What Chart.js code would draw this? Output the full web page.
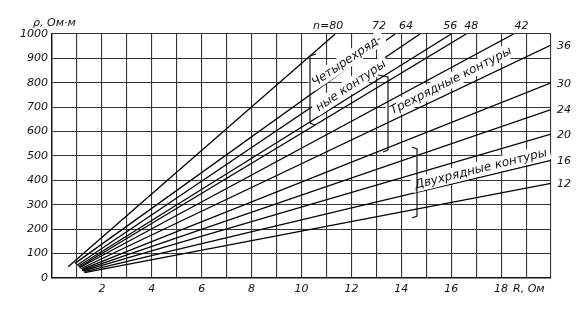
<!DOCTYPE html>
<html>
<head>
<meta charset="utf-8">
<script src="https://cdn.jsdelivr.net/npm/chart.js@4/dist/chart.umd.min.js"></script>
<style>
  html, body { margin: 0; padding: 0; background: #fff; }
  #wrap { width: 583px; height: 311px; }
</style>
</head>
<body>
<div id="wrap"><canvas id="chart"></canvas></div>
<script>
// number of electrodes in the contour, one line each
const contourN = [80, 72, 64, 56, 48, 42, 36, 30, 24, 20, 16, 12];
// where each line starts (R, Ohm / rho, Ohm*m)
const rStart = [0.65, 0.92, 1.0, 1.05, 1.1, 1.1, 1.15, 1.2, 1.2, 1.25, 1.3, 1.3];
const rhoStart = [46, 60, 52, 48, 45, 42, 38, 35, 31, 29, 26, 22];
// where each line ends (top edge or right edge)
const rEnd = [11.35, 13.75, 14.75, 16.0, 16.6, 18.5, 20, 20, 20, 20, 20, 20];
const rhoEnd = [1000, 1000, 1000, 1000, 1000, 1000, 955, 800, 690, 590, 482, 388];

const tickFont = { family: "DejaVu Sans", size: 11, style: "italic" };

const datasets = contourN.map((n, i) => ({
  label: "n=" + n,
  data: [
    { x: rStart[i], y: rhoStart[i] },
    { x: rEnd[i], y: rhoEnd[i] },
  ],
  borderColor: "#000",
  borderWidth: 1.3,
  pointRadius: 0,
  fill: false,
}));

// text, braces and line labels
const notes = {
  id: "notes",
  afterDraw(chart) {
    const ctx = chart.ctx;
    const xs = chart.scales.x;
    const ys = chart.scales.y;
    const area = chart.chartArea;
    ctx.save();
    ctx.textBaseline = "middle";

    // rotated group names on a white band that breaks the grid
    ctx.font = "italic 12px 'DejaVu Sans'";
    ctx.textAlign = "center";
    const rotText = (txt, x, y, deg) => {
      ctx.save();
      ctx.translate(x, y);
      ctx.rotate(deg * Math.PI / 180);
      const w = ctx.measureText(txt).width;
      ctx.fillStyle = "#fff";
      ctx.fillRect(-w / 2 - 3, -8, w + 6, 15);
      ctx.fillStyle = "#111";
      ctx.fillText(txt, 0, 0);
      ctx.restore();
    };
    rotText("\u0427\u0435\u0442\u044b\u0440\u0435\u0445\u0440\u044f\u0434-", 347, 61, -34);
    rotText("\u043d\u044b\u0435 \u043a\u043e\u043d\u0442\u0443\u0440\u044b", 351, 86, -34);
    rotText("\u0422\u0440\u0435\u0445\u0440\u044f\u0434\u043d\u044b\u0435 \u043a\u043e\u043d\u0442\u0443\u0440\u044b", 451, 81, -27);
    rotText("\u0414\u0432\u0443\u0445\u0440\u044f\u0434\u043d\u044b\u0435 \u043a\u043e\u043d\u0442\u0443\u0440\u044b", 481, 169, -14);

    // line labels
    ctx.fillStyle = "#111";
    ctx.font = "italic 11px 'DejaVu Sans'";
    const nudge = [-7, -16, -14, -1, 5, 8];
    contourN.forEach((n, i) => {
      if (rhoEnd[i] >= 1000) {
        ctx.textAlign = "center";
        const txt = i === 0 ? "n=" + n : String(n);
        ctx.fillText(txt, xs.getPixelForValue(rEnd[i]) + (nudge[i] || 0), area.top - 8);
      } else {
        ctx.textAlign = "left";
        ctx.fillText(String(n), area.right + 6, ys.getPixelForValue(rhoEnd[i]) + 1);
      }
    });

    // axis titles
    ctx.textAlign = "left";
    ctx.fillText("\u03c1, \u041e\u043c\u00b7\u043c", 33, 23);
    ctx.fillText("R, \u041e\u043c", 513, 289);

    // braces
    ctx.strokeStyle = "#111";
    ctx.lineWidth = 1.2;
    const brace = (x, y0, y1, topDx, botDx) => {
      ctx.beginPath();
      ctx.moveTo(x + topDx, y0 - 2);
      ctx.lineTo(x, y0);
      ctx.lineTo(x, y1);
      ctx.lineTo(x + botDx, y1 + 2);
      ctx.stroke();
    };
    brace(310, 56, 123, 6, 5);
    brace(388, 77, 150, -10, -5);
    brace(417, 149, 216, -5, -5);
    ctx.restore();
  },
};

new Chart(document.getElementById("chart"), {
  type: "line",
  data: { datasets: datasets },
  options: {
    responsive: true,
    maintainAspectRatio: false,
    animation: false,
    layout: { padding: { top: 34, right: 32, left: 0, bottom: 0 } },
    plugins: {
      legend: { display: false },
      tooltip: { enabled: false },
    },
    scales: {
      x: {
        type: "linear",
        min: 0,
        max: 20,
        afterFit(s) { s.height = 33; },
        grid: { color: "#333", lineWidth: 1.1, drawTicks: false },
        border: { color: "#111", width: 1.4 },
        ticks: {
          stepSize: 1,
          autoSkip: false,
          maxRotation: 0,
          padding: 5,
          color: "#111",
          font: tickFont,
          callback: (v) => (v % 2 === 0 && v > 0 && v < 20 ? String(v) : ""),
        },
      },
      y: {
        min: 0,
        max: 1000,
        afterFit(s) { s.width = 52; },
        grid: { color: "#333", lineWidth: 1.1, drawTicks: false },
        border: { color: "#111", width: 1.4 },
        ticks: {
          stepSize: 100,
          padding: 4,
          color: "#111",
          font: tickFont,
          callback: (v) => String(v),
        },
      },
    },
  },
  plugins: [notes],
});
</script>
</body>
</html>
